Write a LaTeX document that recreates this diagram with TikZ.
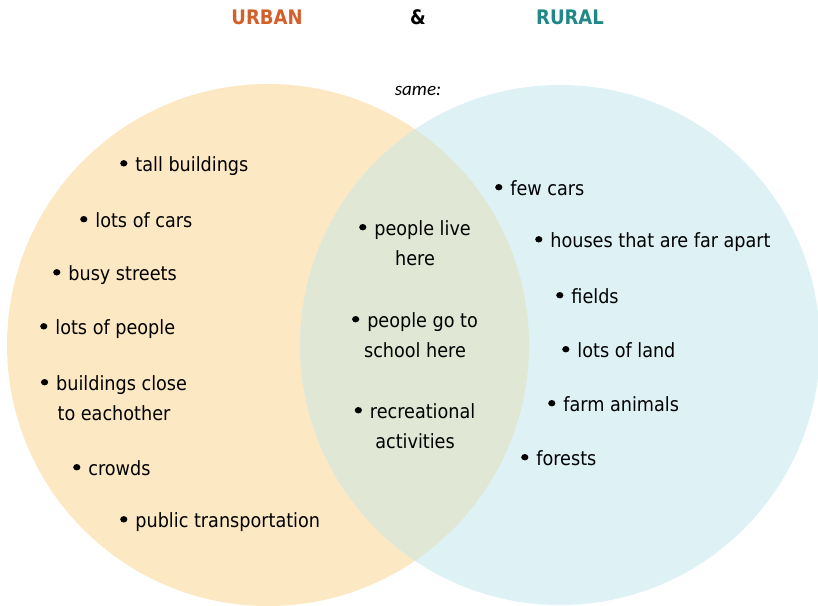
\documentclass[tikz,border=0pt]{standalone}
\usepackage{fontspec}
\setmainfont{DejaVu Sans Condensed}
\newfontfamily\samefont{Carlito}
\definecolor{urbanfill}{RGB}{253,232,196}
\definecolor{ruralfill}{RGB}{222,241,245}
\definecolor{bothfill}{RGB}{224,232,213}
\definecolor{urbantxt}{RGB}{210,96,42}
\definecolor{ruraltxt}{RGB}{33,136,136}
\newcommand{\bul}{\raisebox{0.25em}{\tikz\fill (0,0) ellipse[x radius=3.6pt, y radius=3.2pt];}\hspace{8pt}}
\tikzset{
  item/.style={font=\fontsize{19.6}{30}\selectfont, align=center, inner sep=0pt, anchor=west},
  citem/.style={font=\fontsize{19.6}{30}\selectfont, align=center, inner sep=0pt},
  title/.style={font=\fontsize{20}{22}\selectfont\bfseries, inner sep=0pt}
}
\begin{document}
\begin{tikzpicture}[x=1pt,y=-1pt]
\useasboundingbox (0,0) rectangle (818,605);
\fill[urbanfill] (268,345) circle[radius=261];
\fill[ruralfill] (560,345) circle[radius=260];
\begin{scope}
\clip (268,345) circle[radius=261];
\fill[bothfill] (560,345) circle[radius=260];
\end{scope}
\node[title, text=urbantxt] (urban) at (267,17) {URBAN};
\node[title] (amp) at (418,17) {\&};
\node[title, text=ruraltxt] (rural) at (570,17) {RURAL};
\node[inner sep=0pt, font=\samefont\itshape\fontsize{19}{22}\selectfont] (same) at (418,91) {same:};
% urban
\node[item] (u1) at (120,166) {\bul tall buildings};
\node[item] (u2) at (80,220) {\bul lots of cars};
\node[item] (u3) at (53,275) {\bul busy streets};
\node[item] (u4) at (40,329) {\bul lots of people};
\node[citem] (u5) at (114,398) {\bul buildings close\\to eachother};
\node[item] (u6) at (73,468) {\bul crowds};
\node[item] (u7) at (120,522) {\bul public transportation};
% both
\node[citem] (b1) at (415,243) {\bul people live\\here};
\node[citem] (b2) at (415,335) {\bul people go to\\school here};
\node[citem] (b3) at (415,426) {\bul recreational\\activities};
% rural
\node[item] (r1) at (495,188) {\bul few cars};
\node[item] (r2) at (535,242) {\bul houses that are far apart};
\node[item] (r3) at (556,296) {\bul fields};
\node[item] (r4) at (562,350) {\bul lots of land};
\node[item] (r5) at (548,404) {\bul farm animals};
\node[item] (r6) at (521,458) {\bul forests};
\end{tikzpicture}
\end{document}
